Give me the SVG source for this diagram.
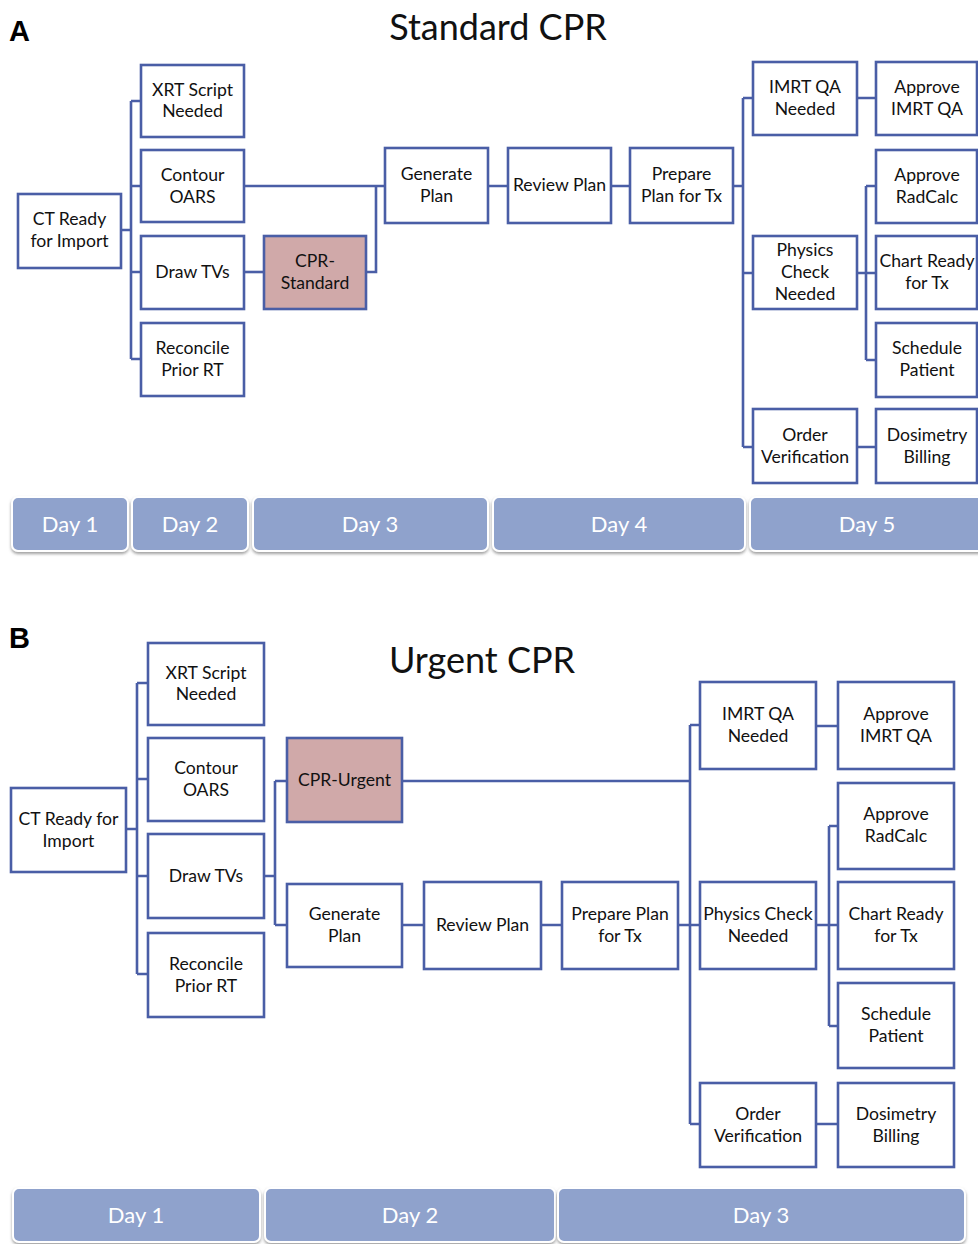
<svg xmlns="http://www.w3.org/2000/svg" width="978" height="1244" viewBox="0 0 978 1244">
<defs>
<style>
.box{fill:#ffffff;stroke:#4a5ea6;stroke-width:2.6}
.hl{fill:#d0a9a9;stroke:#4a5ea6;stroke-width:2.6}
.lbl{font-family:Lato,"Open Sans",sans-serif;font-size:17.6px;fill:#111;text-anchor:middle}
.title{font-family:Lato,"Open Sans",sans-serif;font-size:36px;fill:#111;text-anchor:middle}
.panel{font-family:"Liberation Sans",Arial,sans-serif;font-weight:bold;font-size:29px;fill:#000}
.conn path{fill:none;stroke:#4a5ea6;stroke-width:2.6}
.day{fill:#8fa2cc;stroke:#ffffff;stroke-width:2;filter:url(#sh)}
.dayt{font-family:Lato,"Open Sans",sans-serif;font-size:22px;fill:#ffffff;text-anchor:middle}
</style>
<filter id="sh" x="-5%" y="-20%" width="110%" height="150%">
<feDropShadow dx="0" dy="2" stdDeviation="1.5" flood-color="#777" flood-opacity="0.7"/>
</filter>
</defs>
<rect width="978" height="1244" fill="#ffffff"/>

<!-- Panel A -->
<text class="panel" x="9" y="41">A</text>
<text class="title" x="498" y="40">Standard CPR</text>

<g class="conn" id="connectors-a">
<path d="M121,230 H131 M131,101 V359 M131,101 H141 M131,186 H141 M131,272 H141 M131,359 H141"/>
<path d="M244,272 H264"/>
<path d="M244,186 H385 M366,272 H376 V186"/>
<path d="M488,186 H508 M611,186 H630"/>
<path d="M733,186 H743 M743,98 V447 M743,98 H753 M743,273 H753 M743,447 H753"/>
<path d="M857,98 H876 M857,273 H876 M866,186 V360 M866,186 H876 M866,360 H876 M857,447 H876"/>
</g>

<g id="a-ct"><rect class="box" x="18" y="194" width="103" height="74"/><text class="lbl" x="69.5" y="225">CT Ready</text><text class="lbl" x="69.5" y="247">for Import</text></g>
<g id="a-xrt"><rect class="box" x="141" y="65" width="103" height="72"/><text class="lbl" x="192.5" y="96">XRT Script</text><text class="lbl" x="192.5" y="117">Needed</text></g>
<g id="a-contour"><rect class="box" x="141" y="150" width="103" height="72"/><text class="lbl" x="192.5" y="181">Contour</text><text class="lbl" x="192.5" y="203">OARS</text></g>
<g id="a-draw"><rect class="box" x="141" y="236" width="103" height="73"/><text class="lbl" x="192.5" y="278">Draw TVs</text></g>
<g id="a-reconcile"><rect class="box" x="141" y="323" width="103" height="73"/><text class="lbl" x="192.5" y="354">Reconcile</text><text class="lbl" x="192.5" y="376">Prior RT</text></g>
<g id="a-cpr"><rect class="hl" x="264" y="236" width="102" height="73"/><text class="lbl" x="315" y="267">CPR-</text><text class="lbl" x="315" y="289">Standard</text></g>
<g id="a-generate"><rect class="box" x="385" y="148" width="103" height="75"/><text class="lbl" x="436.5" y="180">Generate</text><text class="lbl" x="436.5" y="202">Plan</text></g>
<g id="a-review"><rect class="box" x="508" y="148" width="103" height="75"/><text class="lbl" x="559.5" y="191">Review Plan</text></g>
<g id="a-prepare"><rect class="box" x="630" y="148" width="103" height="75"/><text class="lbl" x="681.5" y="180">Prepare</text><text class="lbl" x="681.5" y="202">Plan for Tx</text></g>
<g id="a-imrt"><rect class="box" x="753" y="62" width="104" height="73"/><text class="lbl" x="805" y="93">IMRT QA</text><text class="lbl" x="805" y="115">Needed</text></g>
<g id="a-approve-imrt"><rect class="box" x="876" y="62" width="101" height="73"/><text class="lbl" x="927" y="93">Approve</text><text class="lbl" x="927" y="115">IMRT QA</text></g>
<g id="a-radcalc"><rect class="box" x="876" y="150" width="101" height="73"/><text class="lbl" x="927" y="181">Approve</text><text class="lbl" x="927" y="203">RadCalc</text></g>
<g id="a-physics"><rect class="box" x="753" y="236" width="104" height="73"/><text class="lbl" x="805" y="256">Physics</text><text class="lbl" x="805" y="278">Check</text><text class="lbl" x="805" y="300">Needed</text></g>
<g id="a-chart"><rect class="box" x="876" y="236" width="101" height="73"/><text class="lbl" x="927" y="267">Chart Ready</text><text class="lbl" x="927" y="289">for Tx</text></g>
<g id="a-schedule"><rect class="box" x="876" y="323" width="101" height="74"/><text class="lbl" x="927" y="354">Schedule</text><text class="lbl" x="927" y="376">Patient</text></g>
<g id="a-order"><rect class="box" x="753" y="409" width="104" height="74"/><text class="lbl" x="805" y="441">Order</text><text class="lbl" x="805" y="463">Verification</text></g>
<g id="a-dosimetry"><rect class="box" x="876" y="409" width="101" height="74"/><text class="lbl" x="927" y="441">Dosimetry</text><text class="lbl" x="927" y="463">Billing</text></g>

<g id="a-days">
<rect class="day" x="12" y="497" width="116" height="54" rx="6"/><text class="dayt" x="70" y="532">Day 1</text>
<rect class="day" x="132" y="497" width="116" height="54" rx="6"/><text class="dayt" x="190" y="532">Day 2</text>
<rect class="day" x="253" y="497" width="235" height="54" rx="6"/><text class="dayt" x="370" y="532">Day 3</text>
<rect class="day" x="493" y="497" width="252" height="54" rx="6"/><text class="dayt" x="619" y="532">Day 4</text>
<rect class="day" x="750" y="497" width="236" height="54" rx="6"/><text class="dayt" x="867" y="532">Day 5</text>
</g>

<!-- Panel B -->
<text class="panel" x="9" y="648">B</text>
<text class="title" x="482" y="673">Urgent CPR</text>

<g class="conn" id="connectors-b">
<path d="M126,829 H137 M137,683 V974 M137,683 H148 M137,779 H148 M137,876 H148 M137,974 H148"/>
<path d="M264,876 H275 M275,781 V925 M275,781 H287 M275,925 H287"/>
<path d="M402,781 H690"/>
<path d="M402,925 H424 M541,925 H562 M678,925 H700"/>
<path d="M690,725 V1124 M690,725 H700 M690,1124 H700"/>
<path d="M816,726 H838 M816,925 H838 M829,826 V1026 M829,826 H838 M829,1026 H838 M816,1124 H838"/>
</g>

<g id="b-ct"><rect class="box" x="11" y="788" width="115" height="84"/><text class="lbl" x="68.5" y="825">CT Ready for</text><text class="lbl" x="68.5" y="847">Import</text></g>
<g id="b-xrt"><rect class="box" x="148" y="643" width="116" height="82"/><text class="lbl" x="206" y="679">XRT Script</text><text class="lbl" x="206" y="700">Needed</text></g>
<g id="b-contour"><rect class="box" x="148" y="738" width="116" height="83"/><text class="lbl" x="206" y="774">Contour</text><text class="lbl" x="206" y="796">OARS</text></g>
<g id="b-draw"><rect class="box" x="148" y="834" width="116" height="84"/><text class="lbl" x="206" y="882">Draw TVs</text></g>
<g id="b-reconcile"><rect class="box" x="148" y="933" width="116" height="84"/><text class="lbl" x="206" y="970">Reconcile</text><text class="lbl" x="206" y="992">Prior RT</text></g>
<g id="b-cpr"><rect class="hl" x="287" y="738" width="115" height="84"/><text class="lbl" x="344.5" y="786">CPR-Urgent</text></g>
<g id="b-generate"><rect class="box" x="287" y="884" width="115" height="83"/><text class="lbl" x="344.5" y="920">Generate</text><text class="lbl" x="344.5" y="942">Plan</text></g>
<g id="b-review"><rect class="box" x="424" y="882" width="117" height="87"/><text class="lbl" x="482.5" y="931">Review Plan</text></g>
<g id="b-prepare"><rect class="box" x="562" y="882" width="116" height="87"/><text class="lbl" x="620" y="920">Prepare Plan</text><text class="lbl" x="620" y="942">for Tx</text></g>
<g id="b-imrt"><rect class="box" x="700" y="682" width="116" height="87"/><text class="lbl" x="758" y="720">IMRT QA</text><text class="lbl" x="758" y="742">Needed</text></g>
<g id="b-approve-imrt"><rect class="box" x="838" y="682" width="116" height="87"/><text class="lbl" x="896" y="720">Approve</text><text class="lbl" x="896" y="742">IMRT QA</text></g>
<g id="b-radcalc"><rect class="box" x="838" y="783" width="116" height="86"/><text class="lbl" x="896" y="820">Approve</text><text class="lbl" x="896" y="842">RadCalc</text></g>
<g id="b-physics"><rect class="box" x="700" y="882" width="116" height="87"/><text class="lbl" x="758" y="920">Physics Check</text><text class="lbl" x="758" y="942">Needed</text></g>
<g id="b-chart"><rect class="box" x="838" y="882" width="116" height="87"/><text class="lbl" x="896" y="920">Chart Ready</text><text class="lbl" x="896" y="942">for Tx</text></g>
<g id="b-schedule"><rect class="box" x="838" y="983" width="116" height="85"/><text class="lbl" x="896" y="1020">Schedule</text><text class="lbl" x="896" y="1042">Patient</text></g>
<g id="b-order"><rect class="box" x="700" y="1083" width="116" height="84"/><text class="lbl" x="758" y="1120">Order</text><text class="lbl" x="758" y="1142">Verification</text></g>
<g id="b-dosimetry"><rect class="box" x="838" y="1083" width="116" height="84"/><text class="lbl" x="896" y="1120">Dosimetry</text><text class="lbl" x="896" y="1142">Billing</text></g>

<g id="b-days">
<rect class="day" x="13" y="1188" width="247" height="54" rx="6"/><text class="dayt" x="136" y="1223">Day 1</text>
<rect class="day" x="265" y="1188" width="290" height="54" rx="6"/><text class="dayt" x="410" y="1223">Day 2</text>
<rect class="day" x="558" y="1188" width="407" height="54" rx="6"/><text class="dayt" x="761" y="1223">Day 3</text>
</g>
</svg>
